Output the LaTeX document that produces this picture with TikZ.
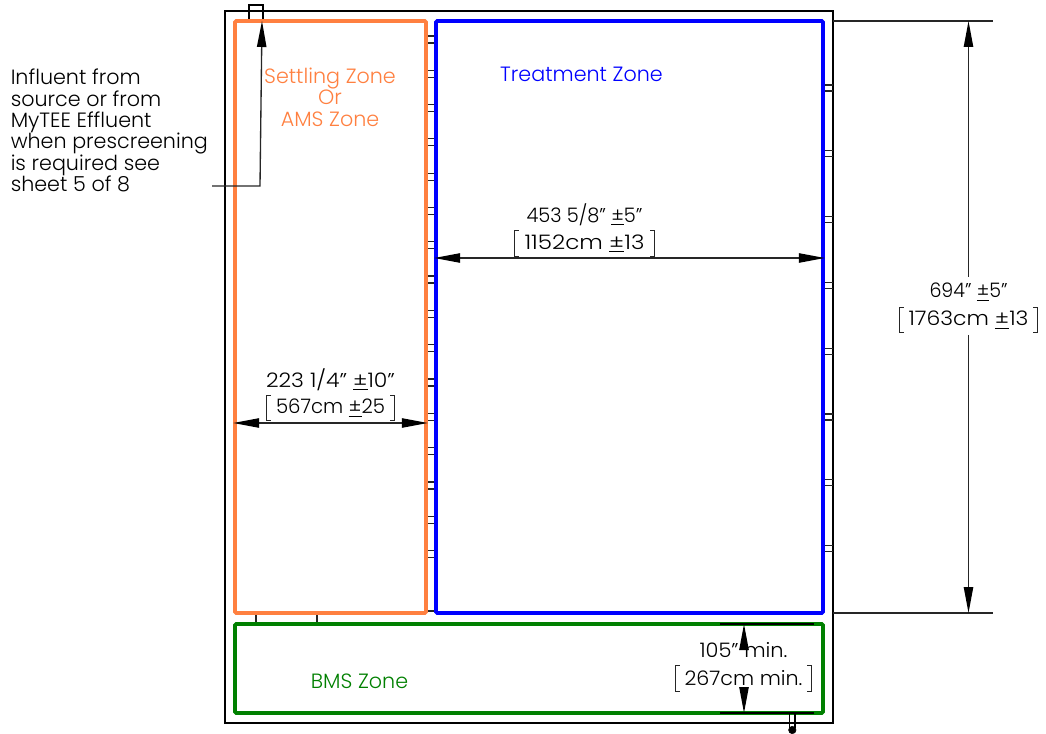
\documentclass[tikz,border=0pt]{standalone}
\usepackage{graphicx}
\usepackage{fontspec}
\setmainfont{Poppins}[UprightFont=* Light]
\usetikzlibrary{arrows.meta}
\definecolor{settlecol}{RGB}{255,128,64}
\definecolor{bmscol}{RGB}{0,128,0}
\tikzset{
	zonebox/.style={line width=2.8pt, rounded corners=1pt, inner sep=0pt},
	dimtip/.tip={Triangle[length=19.5pt,width=7pt,color=black]},
	dimline/.style={line width=1pt, black!85},
	thinline/.style={line width=0.9pt, black!85},
	dimtext/.style={font=\fontsize{15}{16}\selectfont, inner sep=0pt, align=center, text=black},
	brackettext/.style={dimtext, minimum height=18.75pt},
	zonetext/.style={font=\fontsize{15.5}{16}\selectfont, inner sep=0pt, align=center}
}
\newcommand{\inchmark}{\symbol{34}}
\newcommand{\pmmark}{\underline{±}}
\newcommand{\fitw}[2]{\resizebox{#1\dimexpr0.75pt\relax}{\height}{#2}}
% name, x, y of first line, y of second line, the two lines, bracket width
\newcommand{\dimpair}[7]{
	\node[dimtext] (#1a) at (#2,#3) {#5};
	\node[brackettext, minimum width=#7*0.75pt] (#1b) at (#2,#4) {#6};
	\draw[line width=0.7pt, black!85] ([xshift=3pt]#1b.north west) -- (#1b.north west) -- (#1b.south west) -- ([xshift=3pt]#1b.south west);
	\draw[line width=0.7pt, black!85] ([xshift=-3pt]#1b.north east) -- (#1b.north east) -- (#1b.south east) -- ([xshift=-3pt]#1b.south east);
}
\begin{document}
\begin{tikzpicture}[x=0.75pt, y=-0.75pt]
	\useasboundingbox (0,0) rectangle (1046,734);
	% outer tank
	\draw[line width=1pt] (225,11) rectangle (833,723);
	\draw[line width=1pt] (249,21) |- (263,5) -- (263,21);
	\draw[thinline] (256,613) -- (256,624);
	\draw[thinline] (317,613) -- (317,624);
	\draw[thinline] (426,611) -- (436,611);
	% baffle supports
	\foreach \i in {0,...,15} {
		\draw[thinline] (426,{36+34.3*\i}) -- (436,{36+34.3*\i});
		\draw[thinline] (426,{43+34.3*\i}) -- (436,{43+34.3*\i});
	}
	\foreach \i in {0,...,7} {
		\draw[thinline] (823,{85+65.8*\i}) -- (833,{85+65.8*\i});
		\draw[thinline] (823,{91+65.8*\i}) -- (833,{91+65.8*\i});
	}
	% zones
	\node[draw=settlecol, zonebox, minimum width=143.25pt, minimum height=444pt] (settling) at (330.5,317) {};
	\node[draw=blue, zonebox, minimum width=290.25pt, minimum height=444pt] (treatment) at (629.5,317) {};
	\node[draw=bmscol, zonebox, minimum width=441pt, minimum height=66.75pt] (bms) at (529,668.5) {};
	\node[zonetext, text=settlecol] (settlinglabel) at (330,97) {Settling Zone\\Or\\AMS Zone};
	\node[zonetext, text=blue] (treatmentlabel) at (581.5,74) {Treatment Zone};
	\node[zonetext, text=bmscol] (bmslabel) at (359.5,681) {BMS Zone};
	% inlet note
	\node[dimtext, font=\fontsize{15.5}{16}\selectfont, align=left, anchor=north west] (inlet) at (10.5,69) {Influent from\\source or from\\MyTEE Effluent\\when prescreening\\is required see\\sheet 5 of 8};
	\coordinate (inleta) at (212,186);
	\coordinate (inletb) at (260,186);
	\coordinate (inletc) at (262,21);
	\draw[dimline, -dimtip] (inleta) -- (inletb) -- (inletc);
	% dimensions
	\dimpair{widthb}{584.5}{215}{243.5}{\fitw{116}{453 5/8\inchmark{} \pmmark5\inchmark}}{\fitw{120}{1152cm \pmmark13}}{139}
	\draw[dimline, dimtip-dimtip] (treatment.west |- 0,258) -- (treatment.east |- 0,258);
	\dimpair{widtha}{330.5}{380}{408}{\fitw{129}{223 1/4\inchmark{} \pmmark10\inchmark}}{\fitw{109}{567cm \pmmark25}}{127}
	\draw[dimline, dimtip-dimtip] (settling.west |- 0,423) -- (settling.east |- 0,423);
	\coordinate (exta) at (993,21);
	\coordinate (extb) at (993,613);
	\draw[dimline] (833,21) -- (exta);
	\draw[dimline] (833,613) -- (extb);
	\dimpair{height}{968.5}{292}{320}{\fitw{78}{694\inchmark{} \pmmark5\inchmark}}{\fitw{120}{1763cm \pmmark13}}{137}
	\draw[dimline, -dimtip] (968.5,277) -- (968.5,21);
	\draw[dimline, -dimtip] (968.5,335) -- (968.5,613);
	\draw[line width=1pt] (720,624) -- (814,624);
	\draw[line width=1pt] (720,713) -- (814,713);
	\draw[dimline, -dimtip] (744,649) -- (744,624);
	\draw[dimline, -dimtip] (744,687) -- (744,713);
	\dimpair{gap}{743.5}{650}{678.5}{\fitw{88}{105\inchmark{} min.}}{\fitw{118}{267cm min.}}{135}
	% outlet
	\draw[line width=1pt] (789.5,713) -- (789.5,728);
	\draw[line width=1pt] (795,713) -- (795,728);
	\draw[fill=black] (792.3,730) circle (2.8pt);
\end{tikzpicture}
\end{document}
